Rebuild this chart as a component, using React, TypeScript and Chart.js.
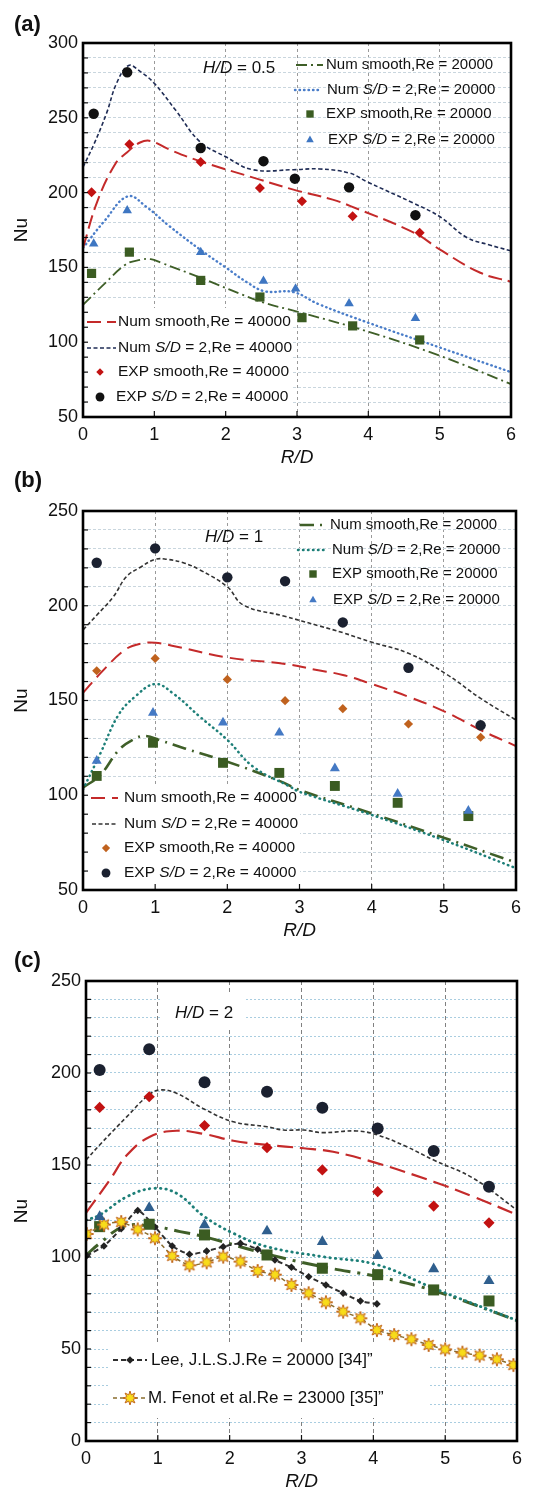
import React, { useEffect, useRef } from 'react';
import { Chart, registerables } from 'chart.js';
Chart.register(...registerables);

const FONT = '"Liberation Sans", Arial, Helvetica, sans-serif';

// ---------- Panel (a) H/D = 0.5 ----------
const A_NUM_SMOOTH_20_R = [0, 0.3, 0.6, 0.8, 0.95, 1.1, 1.6, 2.5, 3.0, 4.0, 5.0, 6.0];
const A_NUM_SMOOTH_20_NU = [125, 139, 152, 155, 155.5, 153, 144, 127, 120.5, 107, 91, 72];
const A_NUM_SD2_20_R = [0, 0.3, 0.63, 0.9, 1.2, 1.64, 2.0, 2.3, 2.55, 2.95, 3.3, 4.0, 5.0, 6.0];
const A_NUM_SD2_20_NU = [163, 181, 197.5, 190, 178, 162, 150, 140, 134, 133.5, 125.5, 113, 96.5, 80];
const A_NUM_SMOOTH_40_R = [0, 0.2, 0.45, 0.62, 0.8, 0.95, 1.2, 1.64, 2.48, 2.95, 3.5, 3.75, 4.65, 5.0, 5.57, 6.0];
const A_NUM_SMOOTH_40_NU = [163, 194, 219, 227, 233.5, 234.5, 229, 221, 208.7, 202, 195.3, 191, 173, 162, 146.4, 140.4];
const A_NUM_SD2_40_R = [0, 0.15, 0.33, 0.47, 0.64, 0.8, 1.0, 1.3, 1.64, 2.0, 2.38, 2.95, 3.32, 3.74, 3.97, 4.63, 5.0, 5.38, 5.7, 6.0];
const A_NUM_SD2_40_NU = [217, 232, 253, 273, 285, 281, 273, 255, 234, 224, 215.3, 215.3, 215.8, 213, 207.5, 193, 184, 170, 165, 161];
const A_EXP_SD2_40_R = [0.15, 0.62, 1.65, 2.53, 2.97, 3.73, 4.66];
const A_EXP_SD2_40_NU = [252.7, 280.4, 229.8, 221, 209.3, 203.5, 184.9];
const A_EXP_SMOOTH_40_R = [0.12, 0.65, 1.65, 2.48, 3.07, 3.78, 4.72];
const A_EXP_SMOOTH_40_NU = [200.2, 232.4, 220.4, 203.1, 194.2, 184.2, 173.1];
const A_EXP_SD2_20_R = [0.15, 0.62, 1.65, 2.53, 2.98, 3.73, 4.66];
const A_EXP_SD2_20_NU = [165.8, 188, 160.2, 140.9, 135.8, 125.8, 116];
const A_EXP_SMOOTH_20_R = [0.12, 0.65, 1.65, 2.48, 3.07, 3.78, 4.72];
const A_EXP_SMOOTH_20_NU = [146, 160.2, 141.3, 130.2, 116.4, 110.9, 101.5];

// ---------- Panel (b) H/D = 1 ----------
const B_NUM_SMOOTH_20_R = [0, 0.24, 0.5, 0.7, 0.86, 1.07, 1.41, 2.0, 2.72, 3.0, 3.93, 5.02, 6.0];
const B_NUM_SMOOTH_20_NU = [104, 110.7, 124, 129.5, 131.3, 129, 124.7, 117.7, 107.6, 102.8, 91.3, 77.3, 64.5];
const B_NUM_SD2_20_R = [0, 0.24, 0.49, 0.72, 1.0, 1.25, 1.62, 2.0, 2.36, 2.87, 3.0, 3.93, 5.02, 6.0];
const B_NUM_SD2_20_NU = [103, 122, 142.3, 152, 158.7, 153.7, 141.4, 129.2, 115, 104.5, 101.8, 90.5, 76, 61.5];
const B_NUM_SMOOTH_40_R = [0, 0.24, 0.58, 0.8, 1.0, 1.25, 2.0, 2.8, 3.24, 3.6, 3.98, 4.51, 5.02, 5.51, 6.0];
const B_NUM_SMOOTH_40_NU = [154, 164.3, 176.7, 180, 180.5, 178.8, 172.7, 169.3, 166.1, 163.5, 159, 152, 144, 134.4, 126];
const B_NUM_SD2_40_R = [0, 0.19, 0.42, 0.6, 0.79, 1.0, 1.16, 1.39, 1.62, 2.0, 2.22, 2.78, 3.28, 3.6, 3.98, 4.51, 5.02, 5.51, 6.0];
const B_NUM_SD2_40_NU = [187.2, 195, 204.7, 215.3, 220.2, 224.5, 224.5, 222.7, 218.9, 210, 200.4, 194.6, 189.3, 185.8, 181, 174.9, 164.3, 151.1, 139.7];
const B_EXP_SD2_40_R = [0.19, 1.0, 2.0, 2.8, 3.6, 4.51, 5.51];
const B_EXP_SD2_40_NU = [222.7, 230.3, 215, 213, 191.2, 167.3, 136.9];
const B_EXP_SMOOTH_40_R = [0.19, 1.0, 2.0, 2.8, 3.6, 4.51, 5.51];
const B_EXP_SMOOTH_40_NU = [165.7, 172.2, 161.1, 149.9, 145.7, 137.6, 130.6];
const B_EXP_SD2_20_R = [0.19, 0.97, 1.94, 2.72, 3.49, 4.36, 5.34];
const B_EXP_SD2_20_NU = [118.2, 143.5, 138.4, 133, 114.2, 100.7, 91.8];
const B_EXP_SMOOTH_20_R = [0.19, 0.97, 1.94, 2.72, 3.49, 4.36, 5.34];
const B_EXP_SMOOTH_20_NU = [110.2, 127.7, 117.1, 111.8, 104.9, 96, 89];

// ---------- Panel (c) H/D = 2 ----------
const C_NUM_SMOOTH_20_R = [0, 0.19, 0.52, 0.89, 1.31, 1.65, 2.52, 3.29, 4.06, 4.84, 6.0];
const C_NUM_SMOOTH_20_NU = [101, 107.4, 116.5, 117, 113.8, 111, 101.6, 94.7, 89.3, 81.7, 65.5];
const C_NUM_SD2_20_R = [0, 0.19, 0.57, 0.94, 1.26, 1.65, 2.05, 2.52, 3.29, 4.06, 4.84, 6.0];
const C_NUM_SD2_20_NU = [120, 122.8, 132.8, 137.3, 134.6, 121.9, 112.9, 105.6, 100.2, 95.7, 83, 65.5];
const C_NUM_SMOOTH_40_R = [0, 0.33, 0.57, 0.89, 1.26, 1.65, 2.05, 2.52, 3.03, 3.44, 4.06, 4.84, 5.39, 6.0];
const C_NUM_SMOOTH_40_NU = [124, 141.8, 155.4, 165.4, 168.6, 166.8, 163.2, 160.9, 159.1, 157.2, 150.9, 140.9, 132.8, 123];
const C_NUM_SD2_40_R = [0, 0.19, 0.57, 0.87, 1.03, 1.26, 1.65, 2.05, 2.52, 2.75, 3.03, 3.29, 3.77, 4.06, 4.46, 4.84, 5.39, 6.0];
const C_NUM_SD2_40_NU = [152.7, 160.9, 176.3, 188, 190.8, 189, 180.3, 173.5, 170.8, 169, 169, 167.6, 168.5, 166.3, 160, 152.7, 142.8, 125.5];
const C_EXP_R = [0.19, 0.88, 1.65, 2.52, 3.29, 4.06, 4.84, 5.61];
const C_EXP_SD2_40_NU = [201.6, 212.9, 195, 189.8, 181.1, 169.9, 157.6, 138.2];
const C_EXP_SMOOTH_40_NU = [181.3, 187.1, 171.4, 159.4, 147.3, 135.5, 127.7, 118.6];
const C_EXP_SD2_20_NU = [121.9, 126.8, 117.4, 114.1, 108.3, 100.7, 93.5, 87];
const C_EXP_SMOOTH_20_NU = [116.5, 117.8, 112, 101.1, 93.9, 90.4, 82.1, 76.1];
const LEE_R = [0.01, 0.25, 0.49, 0.72, 0.96, 1.2, 1.44, 1.68, 1.91, 2.15, 2.39, 2.63, 2.86, 3.1, 3.34, 3.58, 3.82, 4.05];
const LEE_NU = [100.7, 106, 115.4, 125.3, 116.3, 106, 101.5, 103.2, 105.6, 107.4, 104.2, 98.4, 94.4, 89.3, 84.8, 80.3, 76.1, 74.5];
const FENOT_R = [0.01, 0.25, 0.49, 0.72, 0.96, 1.2, 1.44, 1.68, 1.91, 2.15, 2.39, 2.63, 2.86, 3.1, 3.34, 3.58, 3.82, 4.05, 4.29, 4.53, 4.77, 5.0, 5.24, 5.48, 5.72, 5.95];
const FENOT_NU = [112.5, 117.6, 119, 115, 110.2, 100.6, 95.5, 97.1, 100.2, 97.5, 92.4, 90.4, 84.8, 80.3, 75.4, 70.3, 66.7, 60.3, 57.6, 55.3, 52.2, 49.8, 48, 46.4, 44.4, 41.3];

const X_TICKS = [0, 1, 2, 3, 4, 5, 6];

type Run = [string, boolean];
interface LegendItem { ds: number; y: number; x0?: number; x1?: number; mx?: number; tx: number; runs: Run[]; size: number; mscale?: number }

const pts = (r: number[], nu: number[]) => r.map((x, i) => ({ x, y: nu[i] }));

function lineDs(label: string, r: number[], nu: number[], color: string, dash: number[], width: number, extra: any = {}) {
  return { label, data: pts(r, nu), borderColor: color, backgroundColor: color, borderDash: dash, borderWidth: width, pointRadius: 0, showLine: true, tension: 0.4, fill: false, ...extra };
}
function markDs(label: string, r: number[], nu: number[], color: string, style: any, radius: number) {
  return { label, data: pts(r, nu), showLine: false, pointStyle: style, pointRadius: radius, backgroundColor: color, borderColor: color, borderWidth: 0 } as any;
}

function makeStar(): HTMLCanvasElement {
  const c = document.createElement('canvas');
  c.width = 16; c.height = 16;
  const g = c.getContext('2d')!;
  g.beginPath();
  const n = 8;
  for (let i = 0; i < 2 * n; i++) {
    const a = -Math.PI / 2 + (i * Math.PI) / n;
    const rr = i % 2 ? 3.4 : 7;
    const px = 8 + rr * Math.cos(a), py = 8 + rr * Math.sin(a);
    if (i) g.lineTo(px, py); else g.moveTo(px, py);
  }
  g.closePath();
  g.fillStyle = '#f8dc1a';
  g.fill();
  g.strokeStyle = '#c0641e';
  g.lineWidth = 1;
  g.stroke();
  return c;
}

function drawMarker(ctx: CanvasRenderingContext2D, style: any, x: number, y: number, r: number, color: string) {
  ctx.save();
  ctx.fillStyle = color;
  ctx.setLineDash([]);
  if (typeof style !== 'string') {
    ctx.drawImage(style, x - style.width / 2, y - style.height / 2);
    ctx.restore();
    return;
  }
  ctx.beginPath();
  if (style === 'circle') ctx.arc(x, y, r, 0, Math.PI * 2);
  else if (style === 'rect') { const s = r * Math.SQRT1_2; ctx.rect(x - s, y - s, 2 * s, 2 * s); }
  else if (style === 'rectRot') { ctx.moveTo(x, y - r); ctx.lineTo(x + r, y); ctx.lineTo(x, y + r); ctx.lineTo(x - r, y); ctx.closePath(); }
  else if (style === 'triangle') {
    for (let i = 0; i < 3; i++) {
      const a = -Math.PI / 2 + (i * 2 * Math.PI) / 3;
      const px = x + r * Math.cos(a), py = y + r * Math.sin(a);
      if (i) ctx.lineTo(px, py); else ctx.moveTo(px, py);
    }
    ctx.closePath();
  }
  ctx.fill();
  ctx.restore();
}

function drawRuns(ctx: CanvasRenderingContext2D, x: number, y: number, runs: Run[], size: number) {
  let cx = x;
  ctx.textAlign = 'left';
  ctx.textBaseline = 'middle';
  ctx.fillStyle = '#111';
  for (const [t, it] of runs) {
    ctx.font = `${it ? 'italic ' : ''}${size}px ${FONT}`;
    ctx.fillText(t, cx, y);
    cx += ctx.measureText(t).width;
  }
}

interface PanelSpec {
  label: string; top: number; height: number;
  yMin: number; yMax: number; yAxisW: number; padTop: number; padRight: number; xAxisH: number;
  datasets: any[]; legends: LegendItem[]; boxes: number[][];
  hd: { x: number; y: number; runs: Run[] };
  xGrid: string; yGrid: string; xDash: number[]; yDash: number[];
}

const SD = (pre: string, post: string): Run[] => [[pre, false], ['S/D', true], [post, false]];

function decoPlugin(p: PanelSpec) {
  return {
    id: 'deco',
    beforeDatasetsDraw(chart: any) {
      const ctx = chart.ctx;
      ctx.save();
      ctx.fillStyle = '#ffffff';
      for (const [x, y, w, h] of p.boxes) ctx.fillRect(x, y, w, h);
      ctx.restore();
    },
    afterDatasetsDraw(chart: any) {
      const ctx: CanvasRenderingContext2D = chart.ctx;
      const a = chart.chartArea;
      const ys = chart.scales.y, xs = chart.scales.x;
      ctx.save();
      ctx.strokeStyle = '#111';
      ctx.lineWidth = 1.2;
      ctx.setLineDash([]);
      for (let v = p.yMin; v <= p.yMax; v += 10) {
        const py = ys.getPixelForValue(v);
        ctx.beginPath(); ctx.moveTo(a.left, py); ctx.lineTo(a.left + 5, py); ctx.stroke();
      }
      for (const t of X_TICKS) {
        const px = xs.getPixelForValue(t);
        ctx.beginPath(); ctx.moveTo(px, a.bottom); ctx.lineTo(px, a.bottom - 6); ctx.stroke();
      }
      ctx.lineWidth = 2.6;
      ctx.strokeStyle = '#000';
      ctx.strokeRect(a.left, a.top, a.right - a.left, a.bottom - a.top);
      for (const it of p.legends) {
        const ds = chart.data.datasets[it.ds];
        if (it.x0 !== undefined && it.x1 !== undefined) {
          ctx.save();
          ctx.strokeStyle = ds.borderColor;
          ctx.lineWidth = ds.borderWidth;
          ctx.lineCap = ds.borderCapStyle || 'butt';
          ctx.setLineDash(ds.borderDash || []);
          ctx.beginPath(); ctx.moveTo(it.x0, it.y); ctx.lineTo(it.x1, it.y); ctx.stroke();
          ctx.restore();
        }
        if (it.mx !== undefined) {
          const r = (ds.legendRadius || ds.pointRadius) * (it.mscale || 0.85);
          drawMarker(ctx, ds.pointStyle, it.mx, it.y, r, ds.backgroundColor);
        }
        drawRuns(ctx, it.tx, it.y, it.runs, it.size);
      }
      drawRuns(ctx, p.hd.x, p.hd.y, p.hd.runs, 17);
      ctx.fillStyle = '#111';
      ctx.font = `bold 22px ${FONT}`;
      ctx.textAlign = 'left';
      ctx.textBaseline = 'middle';
      ctx.fillText(p.label, 14, p.top === 0 ? 25 : 13);
      ctx.save();
      ctx.translate(22, (a.top + a.bottom) / 2);
      ctx.rotate(-Math.PI / 2);
      ctx.font = `19px ${FONT}`;
      ctx.textAlign = 'center';
      ctx.fillText('Nu', 0, 0);
      ctx.restore();
      ctx.font = `italic 19px ${FONT}`;
      ctx.textAlign = 'center';
      ctx.fillText('R/D', (a.left + a.right) / 2, a.bottom + 41);
      ctx.restore();
    },
  };
}

function buildPanels(star: HTMLCanvasElement): PanelSpec[] {
  const GREEN = '#3f5f28', GREEN_SQ = '#3b5c22', RED = '#c42a2a', NAVY = '#1f2c55', DK = '#333333';
  const BLUE_DOT = '#4a7dc9', TEAL = '#1d7f78';

  const aDs = [
    markDs('EXP S/D=2 Re40000', A_EXP_SD2_40_R, A_EXP_SD2_40_NU, '#111111', 'circle', 5.2),
    markDs('EXP smooth Re40000', A_EXP_SMOOTH_40_R, A_EXP_SMOOTH_40_NU, '#c21212', 'rectRot', 5),
    markDs('EXP S/D=2 Re20000', A_EXP_SD2_20_R, A_EXP_SD2_20_NU, '#3e76c2', 'triangle', 5.5),
    markDs('EXP smooth Re20000', A_EXP_SMOOTH_20_R, A_EXP_SMOOTH_20_NU, GREEN_SQ, 'rect', 6.5),
    lineDs('Num S/D=2 Re40000', A_NUM_SD2_40_R, A_NUM_SD2_40_NU, NAVY, [4, 2.5], 1.6),
    lineDs('Num smooth Re40000', A_NUM_SMOOTH_40_R, A_NUM_SMOOTH_40_NU, RED, [14, 6], 2),
    lineDs('Num S/D=2 Re20000', A_NUM_SD2_20_R, A_NUM_SD2_20_NU, BLUE_DOT, [0.5, 4], 2.4, { borderCapStyle: 'round' }),
    lineDs('Num smooth Re20000', A_NUM_SMOOTH_20_R, A_NUM_SMOOTH_20_NU, GREEN, [11, 4, 2, 4], 1.8),
  ];
  const bDs = [
    markDs('EXP S/D=2 Re40000', B_EXP_SD2_40_R, B_EXP_SD2_40_NU, '#1b2130', 'circle', 5.2),
    markDs('EXP smooth Re40000', B_EXP_SMOOTH_40_R, B_EXP_SMOOTH_40_NU, '#c0621e', 'rectRot', 4.6),
    markDs('EXP S/D=2 Re20000', B_EXP_SD2_20_R, B_EXP_SD2_20_NU, '#4479c4', 'triangle', 5.8),
    markDs('EXP smooth Re20000', B_EXP_SMOOTH_20_R, B_EXP_SMOOTH_20_NU, GREEN_SQ, 'rect', 7),
    lineDs('Num S/D=2 Re40000', B_NUM_SD2_40_R, B_NUM_SD2_40_NU, DK, [4, 2.5], 1.6),
    lineDs('Num smooth Re40000', B_NUM_SMOOTH_40_R, B_NUM_SMOOTH_40_NU, RED, [14, 7], 2),
    lineDs('Num S/D=2 Re20000', B_NUM_SD2_20_R, B_NUM_SD2_20_NU, TEAL, [0.5, 4.5], 2.5, { borderCapStyle: 'round' }),
    lineDs('Num smooth Re20000', B_NUM_SMOOTH_20_R, B_NUM_SMOOTH_20_NU, GREEN, [14, 6, 2, 6], 2.6),
  ];
  bDs[1].legendRadius = 5.5;
  const cDs = [
    markDs('EXP S/D=2 Re40000', C_EXP_R, C_EXP_SD2_40_NU, '#1b2130', 'circle', 6),
    markDs('EXP smooth Re40000', C_EXP_R, C_EXP_SMOOTH_40_NU, '#c21212', 'rectRot', 5.6),
    markDs('EXP S/D=2 Re20000', C_EXP_R, C_EXP_SD2_20_NU, '#2f5f8e', 'triangle', 6.4),
    markDs('Fenot', FENOT_R, FENOT_NU, '#8b6d2f', star, 7),
    lineDs('Fenot line', FENOT_R, FENOT_NU, '#8b6d2f', [4, 3], 1.5, { tension: 0.2 }),
    markDs('EXP smooth Re20000', C_EXP_R, C_EXP_SMOOTH_20_NU, GREEN_SQ, 'rect', 7.8),
    markDs('Lee', LEE_R, LEE_NU, '#222222', 'rectRot', 3.8),
    lineDs('Lee line', LEE_R, LEE_NU, '#2f2f2f', [5, 3], 2, { tension: 0.2 }),
    lineDs('Num S/D=2 Re40000', C_NUM_SD2_40_R, C_NUM_SD2_40_NU, DK, [4, 2.5], 1.6),
    lineDs('Num smooth Re40000', C_NUM_SMOOTH_40_R, C_NUM_SMOOTH_40_NU, RED, [16, 7], 2.2),
    lineDs('Num S/D=2 Re20000', C_NUM_SD2_20_R, C_NUM_SD2_20_NU, TEAL, [0.5, 5], 2.8, { borderCapStyle: 'round' }),
    lineDs('Num smooth Re20000', C_NUM_SMOOTH_20_R, C_NUM_SMOOTH_20_NU, GREEN, [16, 7, 3, 7], 3),
  ];

  const A: PanelSpec = {
    label: '(a)', top: 0, height: 468, yMin: 50, yMax: 300, yAxisW: 83, padTop: 43, padRight: 27, xAxisH: 51,
    datasets: aDs,
    legends: [
      { ds: 7, y: 65, x0: 296, x1: 323, tx: 326, runs: [['Num smooth,Re = 20000', false]], size: 15 },
      { ds: 6, y: 90, x0: 295, x1: 321, tx: 327, runs: SD('Num ', ' = 2,Re = 20000'), size: 15 },
      { ds: 3, y: 114, mx: 310, tx: 326, runs: [['EXP smooth,Re = 20000', false]], size: 15, mscale: 0.8 },
      { ds: 2, y: 140, mx: 310, tx: 328, runs: SD('EXP ', ' = 2,Re = 20000'), size: 15, mscale: 0.8 },
      { ds: 5, y: 322, x0: 87, x1: 116, tx: 118, runs: [['Num smooth,Re = 40000', false]], size: 15.5 },
      { ds: 4, y: 348, x0: 87, x1: 116, tx: 118, runs: SD('Num ', ' = 2,Re = 40000'), size: 15.5 },
      { ds: 1, y: 372, mx: 100, tx: 118, runs: [['EXP smooth,Re = 40000', false]], size: 15.5, mscale: 0.75 },
      { ds: 0, y: 397, mx: 100, tx: 116, runs: SD('EXP ', ' = 2,Re = 40000'), size: 15.5, mscale: 0.85 },
    ],
    boxes: [[86, 308, 206, 106]],
    hd: { x: 203, y: 68, runs: [['H/D', true], [' = 0.5', false]] },
    xGrid: '#9a9a9a', yGrid: '#c9d6de', xDash: [3, 3], yDash: [3, 2],
  };
  const B: PanelSpec = {
    label: '(b)', top: 468, height: 480, yMin: 50, yMax: 250, yAxisW: 83, padTop: 43, padRight: 22, xAxisH: 58,
    datasets: bDs,
    legends: [
      { ds: 7, y: 57, x0: 300, x1: 325, tx: 330, runs: [['Num smooth,Re = 20000', false]], size: 15 },
      { ds: 6, y: 82, x0: 298, x1: 325, tx: 332, runs: SD('Num ', ' = 2,Re = 20000'), size: 15 },
      { ds: 3, y: 106, mx: 313, tx: 332, runs: [['EXP smooth,Re = 20000', false]], size: 15, mscale: 0.75 },
      { ds: 2, y: 132, mx: 313, tx: 333, runs: SD('EXP ', ' = 2,Re = 20000'), size: 15, mscale: 0.75 },
      { ds: 5, y: 330, x0: 91, x1: 118, tx: 124, runs: [['Num smooth,Re = 40000', false]], size: 15.5 },
      { ds: 4, y: 356, x0: 92, x1: 118, tx: 124, runs: SD('Num ', ' = 2,Re = 40000'), size: 15.5 },
      { ds: 1, y: 380, mx: 106, tx: 124, runs: [['EXP smooth,Re = 40000', false]], size: 15.5, mscale: 0.75 },
      { ds: 0, y: 405, mx: 106, tx: 124, runs: SD('EXP ', ' = 2,Re = 40000'), size: 15.5, mscale: 0.85 },
    ],
    boxes: [[86, 316, 214, 103]],
    hd: { x: 205, y: 69, runs: [['H/D', true], [' = 1', false]] },
    xGrid: '#9a9a9a', yGrid: '#c9d6de', xDash: [3, 3], yDash: [3, 2],
  };
  const C: PanelSpec = {
    label: '(c)', top: 948, height: 545, yMin: 0, yMax: 250, yAxisW: 86, padTop: 33, padRight: 21, xAxisH: 52,
    datasets: cDs,
    legends: [
      { ds: 7, y: 412, x0: 113, x1: 147, tx: 151, runs: [['Lee, J.L.S.J.Re = 20000 [34]\u201D', false]], size: 17 },
      { ds: 6, y: 412, mx: 130, tx: 151, runs: [], size: 17, mscale: 1 },
      { ds: 4, y: 450, x0: 113, x1: 147, tx: 148, runs: [['M. Fenot et al.Re = 23000 [35]\u201D', false]], size: 17 },
      { ds: 3, y: 450, mx: 130, tx: 148, runs: [], size: 17 },
    ],
    boxes: [[160, 47, 86, 35], [108, 396, 322, 74]],
    hd: { x: 175, y: 65, runs: [['H/D', true], [' = 2', false]] },
    xGrid: '#808080', yGrid: '#a9cde0', xDash: [4, 3], yDash: [2, 2],
  };
  return [A, B, C];
}

function makeChart(canvas: HTMLCanvasElement, p: PanelSpec) {
  return new Chart(canvas, {
    type: 'scatter',
    data: { datasets: p.datasets },
    options: {
      animation: false,
      responsive: false,
      devicePixelRatio: 1,
      events: [],
      layout: { padding: { left: 0, top: p.padTop, right: p.padRight, bottom: 0 } },
      plugins: { legend: { display: false }, tooltip: { enabled: false }, title: { display: false } },
      scales: {
        x: {
          type: 'linear', min: 0, max: 6,
          afterFit: (s: any) => { s.height = p.xAxisH; },
          ticks: { stepSize: 1, padding: 7, color: '#111', font: { size: 18, family: FONT } },
          grid: { color: p.xGrid, drawTicks: false, lineWidth: 1 },
          border: { display: false, dash: p.xDash },
        },
        y: {
          type: 'linear', min: p.yMin, max: p.yMax,
          afterFit: (s: any) => { s.width = p.yAxisW; },
          ticks: {
            stepSize: 10, autoSkip: false, padding: 5, color: '#111', font: { size: 18, family: FONT },
            callback: (v: any) => (Math.round(Number(v)) % 50 === 0 ? String(v) : ''),
          },
          grid: { color: p.yGrid, drawTicks: false, lineWidth: 1 },
          border: { display: false, dash: p.yDash },
        },
      },
    } as any,
    plugins: [decoPlugin(p) as any],
  });
}

export default function App() {
  const r0 = useRef<HTMLCanvasElement>(null);
  const r1 = useRef<HTMLCanvasElement>(null);
  const r2 = useRef<HTMLCanvasElement>(null);
  const panelsMeta = [
    { top: 0, height: 468, ref: r0 },
    { top: 468, height: 480, ref: r1 },
    { top: 948, height: 545, ref: r2 },
  ];
  useEffect(() => {
    const star = makeStar();
    const panels = buildPanels(star);
    const refs = [r0, r1, r2];
    const charts = panels.map((p, i) => makeChart(refs[i].current!, p));
    return () => charts.forEach((c) => c.destroy());
  }, []);
  return (
    <div style={{ position: 'absolute', left: 0, top: 0, width: 538, height: 1493, background: '#fff', overflow: 'hidden' }}>
      {panelsMeta.map((m, i) => (
        <canvas
          key={i}
          ref={m.ref}
          width={538}
          height={m.height}
          style={{ position: 'absolute', left: 0, top: m.top, width: 538, height: m.height }}
        />
      ))}
    </div>
  );
}
